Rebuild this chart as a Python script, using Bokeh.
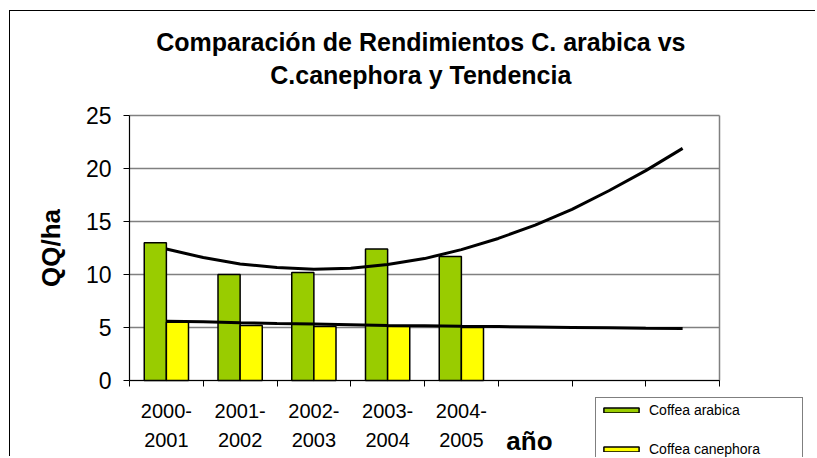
import math
from bokeh.plotting import figure
from bokeh.models import Range1d, FixedTicker, Legend, LegendItem, Label, ColumnDataSource
from bokeh.transform import dodge
from bokeh.embed import file_html
from bokeh.resources import INLINE

# ---- data ----
categories = ["2000-\n2001", "2001-\n2002", "2002-\n2003", "2003-\n2004", "2004-\n2005"]
n_slots = 8  # the category axis has 8 slots, the last 3 empty
arabica = [13.0, 10.0, 10.2, 12.4, 11.7]
canephora = [5.5, 5.2, 5.1, 5.1, 5.0]

# trend lines at half-category steps (1-based slot position)
trend_pos = [1, 1.5, 2, 2.5, 3, 3.5, 4, 4.5, 5, 5.5, 6, 6.5, 7, 7.5, 8]
trend_arabica = [12.4, 11.6, 11.0, 10.65, 10.5, 10.6, 10.95, 11.5, 12.35, 13.4, 14.65, 16.15, 17.9, 19.8, 21.9]
trend_canephora = [5.6, 5.55, 5.45, 5.38, 5.32, 5.26, 5.2, 5.16, 5.12, 5.09, 5.05, 5.01, 4.97, 4.93, 4.9]

y_ticks = [0, 5, 10, 15, 20, 25]
y_max = 25

title_text = "Comparación de Rendimientos C. arabica vs\nC.canephora y Tendencia"
x_title = "año"
y_title = "QQ/ha"
series_names = ["Coffea arabica", "Coffea canephora"]
green = "#99CC00"
yellow = "#FFFF00"
grey = "#808080"
FONT = "Liberation Sans"

centers = [i + 0.5 for i in range(len(categories))]
bars = ColumnDataSource(dict(x=centers, arabica=arabica, canephora=canephora))
trend = ColumnDataSource(dict(x=[t - 0.5 for t in trend_pos], a=trend_arabica, c=trend_canephora))

# The frame covers the whole canvas, so that every text (title, axis titles,
# x labels, legend) is drawn inside it and nothing gets clipped.  Axes are
# pinned at x = 0 and y = 0.
W, H = 806, 446
px_per_slot = 73.75
px_per_unit = 10.6
left_px = 119     # canvas left edge -> plot area left edge
top_px = 104      # canvas top edge -> value 25
bottom_px = 77    # value 0 -> canvas bottom edge
x_start = -left_px / px_per_slot
x_end = (W - left_px) / px_per_slot
y_start = -bottom_px / px_per_unit
y_end = y_max + top_px / px_per_unit

p = figure(width=W, height=H, output_backend="svg", toolbar_location=None,
           x_range=Range1d(x_start, x_end), y_range=Range1d(y_start, y_end),
           min_border_left=0, min_border_right=0, min_border_top=0, min_border_bottom=0)
p.title_location = None
p.styles = {"border-left": "1px solid black", "border-top": "1px solid black",
            "margin-left": "9px", "margin-top": "10px"}
p.background_fill_color = "white"
p.border_fill_color = "white"
p.outline_line_color = None

# grid: horizontal lines inside the plot area, plus its grey right border
grid_ok = True
try:
    p.ygrid.cross_bounds = (0, n_slots)
    p.xgrid.cross_bounds = (0, y_max)
except AttributeError:
    grid_ok = False
if grid_ok:
    p.ygrid.ticker = FixedTicker(ticks=y_ticks)
    p.ygrid.grid_line_color = grey
    p.ygrid.grid_line_width = 1.3
    p.xgrid.ticker = FixedTicker(ticks=[n_slots])
    p.xgrid.grid_line_color = grey
    p.xgrid.grid_line_width = 1.5
else:
    p.xgrid.visible = False
    p.ygrid.visible = False
    p.segment(x0=[0] * len(y_ticks), x1=[n_slots] * len(y_ticks), y0=y_ticks, y1=y_ticks,
              line_color=grey, line_width=1.3, level="underlay")
    p.segment(x0=[n_slots], x1=[n_slots], y0=[0], y1=[y_max],
              line_color=grey, line_width=1.5, level="underlay")

# bars
r_a = p.vbar(x=dodge("x", -0.15, range=p.x_range), top="arabica", width=0.3, source=bars,
             fill_color=green, line_color="black", line_width=1.5)
r_c = p.vbar(x=dodge("x", 0.15, range=p.x_range), top="canephora", width=0.3, source=bars,
             fill_color=yellow, line_color="black", line_width=1.5)

# trend lines
p.line(x="x", y="a", source=trend, line_color="black", line_width=3)
p.line(x="x", y="c", source=trend, line_color="black", line_width=3)

# y axis at x = 0
ya = p.yaxis[0]
ya.fixed_location = 0
ya.ticker = FixedTicker(ticks=y_ticks)
ya.bounds = (0, y_max)
ya.axis_line_color = "black"
ya.axis_line_width = 1.2
ya.major_tick_out = 6
ya.major_tick_in = 0
ya.minor_tick_line_color = None
ya.major_label_text_font = FONT
ya.major_label_text_font_size = "23px"
ya.major_label_text_color = "black"
ya.major_label_standoff = 12

# x axis at y = 0: labels at slot centres, ticks at slot boundaries
xa = p.xaxis[0]
xa.fixed_location = 0
xa.bounds = (0, n_slots)
xa.ticker = FixedTicker(ticks=centers, minor_ticks=list(range(n_slots + 1)))
xa.major_label_overrides = {c: lab for c, lab in zip(centers, categories)}
xa.axis_line_color = "black"
xa.axis_line_width = 1.2
xa.major_tick_out = 0
xa.major_tick_in = 0
xa.minor_tick_out = 6
xa.minor_tick_in = 0
xa.minor_tick_line_color = "black"
xa.major_label_text_font = FONT
xa.major_label_text_font_size = "20px"
xa.major_label_text_color = "black"
xa.major_label_text_line_height = 1.35
xa.major_label_standoff = 13

# chart title
p.add_layout(Label(x=n_slots / 2 - 0.05, y=(380 - 58) / px_per_unit,
                   text=title_text, text_font=FONT, text_font_style="bold",
                   text_font_size="25px", text_line_height=1.2, text_color="black",
                   text_align="center", text_baseline="middle"))

# y axis title, rotated, centred on the value range
p.add_layout(Label(x=(50 - 129) / px_per_slot, y=y_max / 2, text=y_title, angle=math.pi / 2,
                   text_font=FONT, text_font_style="bold", text_font_size="26px",
                   text_color="black", text_align="center", text_baseline="middle"))

# x axis title "año" to the right of the last label
p.add_layout(Label(x=5.11, y=-60 / px_per_unit, text=x_title,
                   text_font=FONT, text_font_style="bold", text_font_size="26px",
                   text_color="black", text_baseline="middle", text_align="left"))

# legend (placed relative to the frame's bottom-left corner, in pixels)
legend = Legend(items=[LegendItem(label=series_names[0], renderers=[r_a]),
                       LegendItem(label=series_names[1], renderers=[r_c])],
                location=(585, -4), orientation="vertical",
                glyph_width=44, glyph_height=6, label_height=17, label_width=150,
                label_standoff=6, spacing=22, padding=3, margin=0,
                label_text_font=FONT, label_text_font_size="14px", label_text_color="black",
                border_line_color="black", border_line_width=1,
                background_fill_color="white", background_fill_alpha=1)
p.add_layout(legend, "center")

open("out.html", "w").write(file_html(p, INLINE))
